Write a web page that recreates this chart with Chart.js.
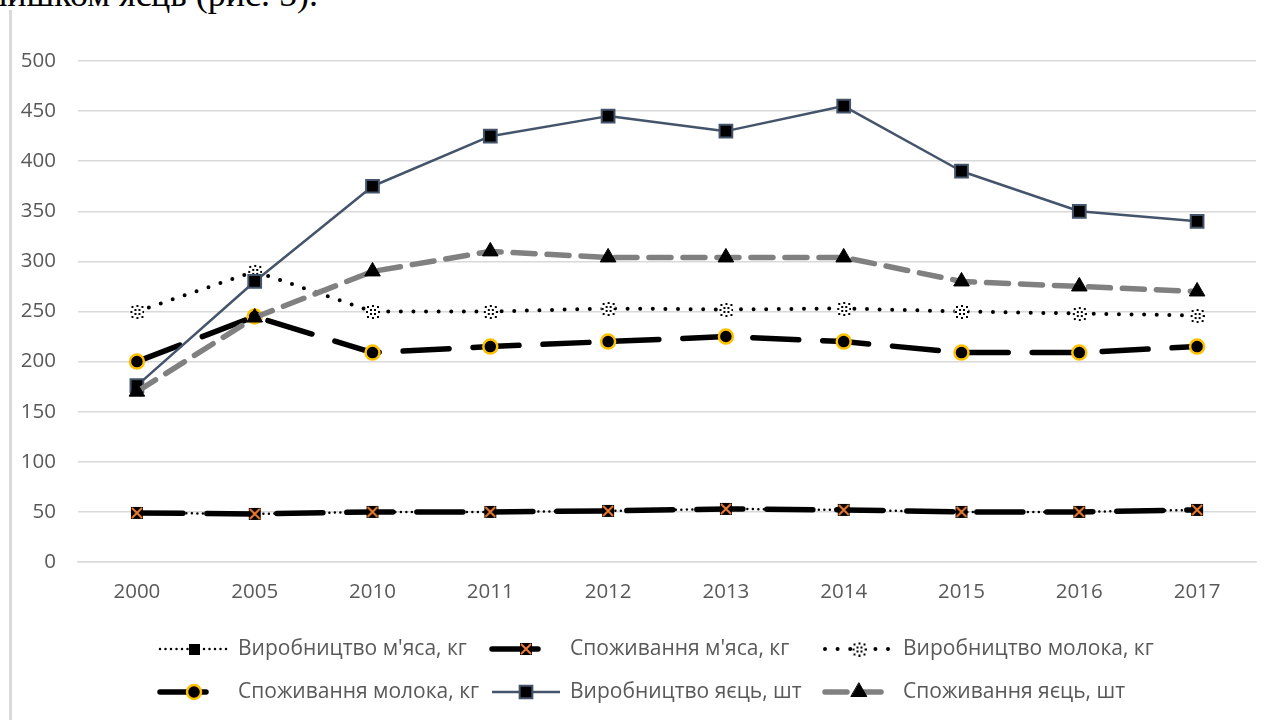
<!DOCTYPE html>
<html>
<head>
<meta charset="utf-8">
<script src="https://cdn.jsdelivr.net/npm/chart.js@4/dist/chart.umd.min.js"></script>
<style>
  html, body { margin: 0; padding: 0; background: #fff; overflow: hidden; }
  #wrap { position: relative; width: 1283px; height: 720px; overflow: hidden; }
  #caption {
    position: absolute; right: calc(1283px - 318px); top: -24px;
    font-family: "Liberation Serif", "DejaVu Serif", serif; font-size: 36px;
    line-height: 36px; color: #000; white-space: nowrap;
  }
  #frame { position: absolute; left: 9px; top: 10px; width: 3px; height: 710px; background: #d9d9d9; }
  #chart { position: absolute; left: 0; top: 0; }
</style>
</head>
<body>
<div id="wrap">
  <div id="caption">з надлишком яєць (рис. 5).</div>
  <div id="frame"></div>
  <canvas id="chart" width="1283" height="720"></canvas>
</div>
<script>
// --- Data ---
const years = ['2000', '2005', '2010', '2011', '2012', '2013', '2014', '2015', '2016', '2017'];
const seriesNames = [
    "Виробництво м'яса, кг",
    "Споживання м'яса, кг",
    'Виробництво молока, кг',
    'Споживання молока, кг',
    'Виробництво яєць, шт',
    'Споживання яєць, шт'
];
const meatProduction = [49, 48, 50, 50, 51, 53, 52, 50, 50, 52];
const meatConsumption = [49, 48, 50, 50, 51, 53, 52, 50, 50, 52];
const milkProduction = [250, 290, 250, 250, 253, 252, 253, 250, 248, 246];
const milkConsumption = [200, 245, 209, 215, 220, 225, 220, 209, 209, 215];
const eggProduction = [176, 280, 375, 425, 445, 430, 455, 390, 350, 340];
const eggConsumption = [170, 244, 290, 310, 304, 304, 304, 280, 275, 270];
const yMin = 0, yMax = 500, yStep = 50;

// --- Marker images ---
function makeMarker(size, draw) {
    const c = document.createElement('canvas');
    c.width = size; c.height = size;
    draw(c.getContext('2d'), size);
    return c;
}

const meatProdMarker = makeMarker(11, (ctx, s) => {
    ctx.fillStyle = '#000';
    ctx.fillRect(0, 0, s, s);
});

const meatConsMarker = makeMarker(14, (ctx, s) => {
    ctx.fillStyle = '#000';
    ctx.fillRect(1, 1, s - 2, s - 2);
    ctx.strokeStyle = '#ED7D31';
    ctx.lineWidth = 2;
    ctx.beginPath();
    ctx.moveTo(2, 2); ctx.lineTo(s - 2, s - 2);
    ctx.moveTo(s - 2, 2); ctx.lineTo(2, s - 2);
    ctx.stroke();
});

// white star-like marker with a broken black outline
const milkProdMarker = makeMarker(15, (ctx, s) => {
    const c = s / 2;
    ctx.fillStyle = '#fff';
    ctx.beginPath(); ctx.arc(c, c, 7, 0, Math.PI * 2); ctx.fill();
    ctx.fillStyle = '#000';
    const pts = [[2, 2], [7, 1], [12, 2], [1, 7], [13, 7], [2, 12], [7, 13], [12, 12], [5, 5], [9, 5], [5, 9], [9, 9]];
    pts.forEach(p => ctx.fillRect(p[0], p[1], 2, 2));
});

// --- Datasets ---
const styles = [
    { data: meatProduction, color: '#000', width: 2.5, dash: [0, 5.5], cap: 'round', point: { pointStyle: meatProdMarker } },
    { data: meatConsumption, color: '#000', width: 5.5, dash: [46, 24], cap: 'round', point: { pointStyle: meatConsMarker } },
    { data: milkProduction, color: '#000', width: 4, dash: [0, 12.6], cap: 'round', point: { pointStyle: milkProdMarker } },
    { data: milkConsumption, color: '#000', width: 5.5, dash: [46, 24], cap: 'round',
      point: { pointStyle: 'circle', pointRadius: 7, pointBackgroundColor: '#000', pointBorderColor: '#FFC000', pointBorderWidth: 2.5 } },
    { data: eggProduction, color: '#44546A', width: 2.5, dash: [], cap: 'butt',
      point: { pointStyle: 'rect', pointRadius: 9, pointBackgroundColor: '#000', pointBorderColor: '#44546A', pointBorderWidth: 2 } },
    { data: eggConsumption, color: '#808080', width: 5.5, dash: [22, 12], cap: 'round',
      point: { pointStyle: 'triangle', pointRadius: 9, pointBackgroundColor: '#000', pointBorderColor: '#000', pointBorderWidth: 1 } }
];

const datasets = styles.map((s, i) => Object.assign({
    label: seriesNames[i],
    data: s.data,
    borderColor: s.color,
    borderWidth: s.width,
    borderDash: s.dash,
    borderCapStyle: s.cap,
    borderJoinStyle: 'round',
    tension: 0,
    fill: false,
    clip: false,
    pointRadius: 7,
    pointHoverRadius: 7,
    order: styles.length - i
}, s.point));

// --- Legend drawn in a grid like the reference ---
const legendCols = [238, 570, 903];
const legendRows = [649, 692];

const gridLegend = {
    id: 'gridLegend',
    afterDraw(chart) {
        const ctx = chart.ctx;
        chart.data.datasets.forEach((ds, i) => {
            const tx = legendCols[i % 3];
            const y = legendRows[Math.floor(i / 3)];
            const x0 = tx - 78, x1 = tx - 10, mid = (x0 + x1) / 2;
            ctx.save();
            ctx.strokeStyle = ds.borderColor;
            ctx.lineWidth = ds.borderWidth;
            ctx.lineCap = ds.borderCapStyle;
            ctx.setLineDash(ds.borderDash);
            ctx.beginPath();
            ctx.moveTo(x0, y); ctx.lineTo(x1, y);
            ctx.stroke();
            ctx.setLineDash([]);
            ctx.fillStyle = ds.pointBackgroundColor || '#000';
            ctx.strokeStyle = ds.pointBorderColor || '#000';
            ctx.lineWidth = ds.pointBorderWidth || 1;
            Chart.helpers.drawPoint(ctx, {
                pointStyle: ds.pointStyle, radius: ds.pointRadius, rotation: 0, borderWidth: ds.pointBorderWidth || 1
            }, mid, y);
            ctx.fillStyle = '#595959';
            ctx.font = '21px "Open Sans"';
            ctx.textBaseline = 'middle';
            ctx.textAlign = 'left';
            ctx.fillText(ds.label, tx, y);
            ctx.restore();
        });
    }
};

new Chart(document.getElementById('chart'), {
    type: 'line',
    data: { labels: years, datasets: datasets },
    plugins: [gridLegend],
    options: {
        responsive: false,
        animation: false,
        layout: { padding: { left: 0, top: 61, right: 27, bottom: 108 } },
        plugins: { legend: { display: false }, tooltip: { enabled: false } },
        scales: {
            x: {
                offset: true,
                grid: { display: false, drawTicks: false },
                border: { display: true, color: '#d9d9d9', width: 1.5 },
                ticks: { color: '#595959', font: { family: 'Open Sans', size: 20.5 }, padding: 18, maxRotation: 0 },
                afterFit: (scale) => { scale.height = 50; }
            },
            y: {
                min: yMin, max: yMax,
                grid: { color: '#d9d9d9', lineWidth: 1.5, drawTicks: false },
                border: { display: false },
                ticks: { stepSize: yStep, color: '#595959', font: { family: 'Open Sans', size: 20.5 }, padding: 22 },
                afterFit: (scale) => { scale.width = 78; }
            }
        }
    }
});
</script>
</body>
</html>
